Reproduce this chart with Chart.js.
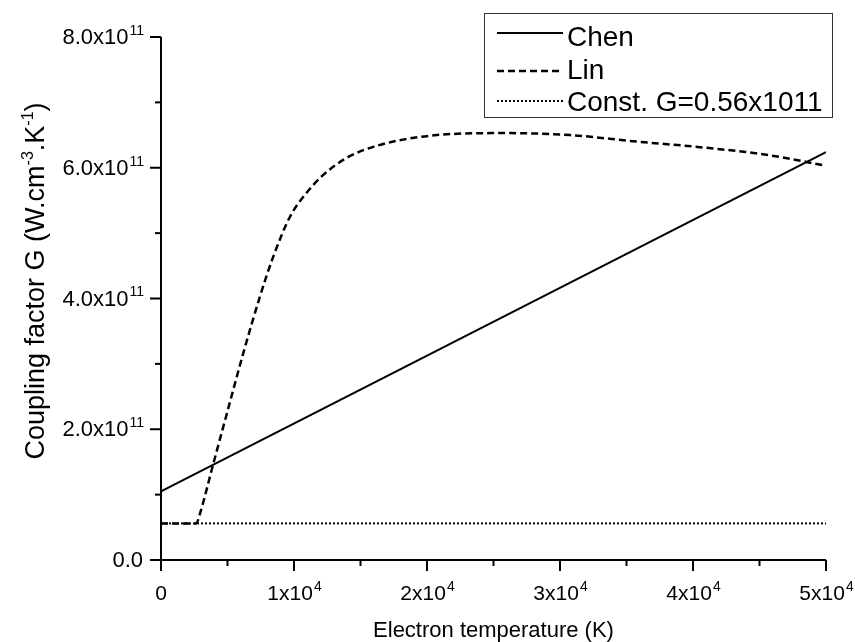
<!DOCTYPE html>
<html>
<head>
<meta charset="utf-8">
<script src="https://cdn.jsdelivr.net/npm/chart.js@4.4.1/dist/chart.umd.min.js"></script>
<style>
  html, body { margin: 0; padding: 0; background: #fff; }
  #wrap { width: 855px; height: 642px; }
</style>
</head>
<body>
<div id="wrap"><canvas id="graph" width="855" height="642"></canvas></div>
<script>
// electron temperature (K) and coupling factor G (units of 1e11 W.cm-3.K-1)
const chenT = [0, 50000];
const chenG = [1.05, 6.24];

const linT = [0, 2650, 2930, 3930, 5190, 6250, 7440, 8440, 9700, 10960, 12200, 13960, 15960, 20730, 25740, 30750, 35770, 40780, 45790, 50000];
const linG = [0.56, 0.56, 0.71, 1.47, 2.42, 3.21, 4.03, 4.64, 5.25, 5.62, 5.89, 6.15, 6.32, 6.50, 6.53, 6.50, 6.40, 6.31, 6.19, 6.03];

const constT = [0, 50000];
const constG = [0.56, 0.56];

const seriesNames = ['Chen', 'Lin', 'Const. G=0.56x1011'];

const xTickVals = [0, 10000, 20000, 30000, 40000, 50000];
const xTickText = ['0', '1x10', '2x10', '3x10', '4x10', '5x10'];
const xTickExp  = ['', '4', '4', '4', '4', '4'];

const yTickVals = [0, 2e11, 4e11, 6e11, 8e11];
const yTickText = ['0.0', '2.0x10', '4.0x10', '6.0x10', '8.0x10'];
const yTickExp  = ['', '11', '11', '11', '11'];

const FONT = 'Arial, "Liberation Sans", sans-serif';

function pts(xs, ys) {
    return xs.map((x, i) => ({ x: x, y: ys[i] * 1e11 }));
}

// draws text with a raised exponent; align = 'center' | 'right' | 'left'
function supText(ctx, base, exp, x, y, size, supSize, align) {
    ctx.font = size + 'px ' + FONT;
    const wb = ctx.measureText(base).width;
    ctx.font = supSize + 'px ' + FONT;
    const we = exp ? ctx.measureText(exp).width : 0;
    const w = wb + we;
    let x0 = x;
    if (align === 'center') x0 = x - w / 2;
    if (align === 'right') x0 = x - w;
    ctx.textAlign = 'left';
    ctx.textBaseline = 'alphabetic';
    ctx.font = size + 'px ' + FONT;
    ctx.fillText(base, x0, y);
    if (exp) {
        ctx.font = supSize + 'px ' + FONT;
        ctx.fillText(exp, x0 + wb + 1, y - size * 0.42);
    }
}

const axisDecor = {
    id: 'axisDecor',
    afterDraw(chart) {
        const ctx = chart.ctx;
        const xs = chart.scales.x;
        const ys = chart.scales.y;
        const a = chart.chartArea;
        ctx.save();
        ctx.strokeStyle = '#000';
        ctx.fillStyle = '#000';
        ctx.lineWidth = 2;

        // axis lines
        ctx.beginPath();
        ctx.moveTo(a.left, a.top);
        ctx.lineTo(a.left, a.bottom);
        ctx.lineTo(a.right, a.bottom);
        ctx.stroke();

        // tick marks (major + minor, outward)
        xs.ticks.forEach(t => {
            const px = xs.getPixelForValue(t.value);
            const len = (t.value % 10000 === 0) ? 11 : 6;
            ctx.beginPath();
            ctx.moveTo(px, a.bottom);
            ctx.lineTo(px, a.bottom + len);
            ctx.stroke();
        });
        ys.ticks.forEach(t => {
            const py = ys.getPixelForValue(t.value);
            const len = (Math.round(t.value / 1e11) % 2 === 0) ? 11 : 6;
            ctx.beginPath();
            ctx.moveTo(a.left, py);
            ctx.lineTo(a.left - len, py);
            ctx.stroke();
        });

        // tick labels
        xTickVals.forEach((v, i) => {
            supText(ctx, xTickText[i], xTickExp[i], xs.getPixelForValue(v), 600, 21, 14, 'center');
        });
        yTickVals.forEach((v, i) => {
            supText(ctx, yTickText[i], yTickExp[i], 143, ys.getPixelForValue(v) + 7, 22, 14, 'right');
        });

        // axis titles
        ctx.font = '22px ' + FONT;
        ctx.textAlign = 'center';
        ctx.textBaseline = 'alphabetic';
        ctx.fillText('Electron temperature (K)', (a.left + a.right) / 2, 637);

        ctx.save();
        ctx.translate(44, 281);
        ctx.rotate(-Math.PI / 2);
        const parts = [['Coupling factor G (W.cm', false], ['-3', true], ['.K', false], ['-1', true], [')', false]];
        let total = 0;
        parts.forEach(p => {
            ctx.font = (p[1] ? 16 : 27) + 'px ' + FONT;
            total += ctx.measureText(p[0]).width;
        });
        let cx = -total / 2;
        ctx.textAlign = 'left';
        parts.forEach(p => {
            ctx.font = (p[1] ? 16 : 27) + 'px ' + FONT;
            ctx.fillText(p[0], cx, p[1] ? -11 : 0);
            cx += ctx.measureText(p[0]).width;
        });
        ctx.restore();

        // legend box
        ctx.lineWidth = 1;
        ctx.strokeStyle = '#333';
        ctx.strokeRect(484.5, 13.5, 348, 104);
        const lineRows = [33, 71, 101];
        const textRows = [46, 79, 111];
        chart.data.datasets.forEach((ds, i) => {
            ctx.strokeStyle = '#000';
            ctx.lineWidth = ds.borderWidth;
            ctx.setLineDash(ds.borderDash || []);
            ctx.beginPath();
            ctx.moveTo(497, lineRows[i]);
            ctx.lineTo(563, lineRows[i]);
            ctx.stroke();
            ctx.setLineDash([]);
            ctx.font = '28px ' + FONT;
            ctx.textAlign = 'left';
            ctx.textBaseline = 'alphabetic';
            ctx.fillText(ds.label, 567, textRows[i]);
        });
        ctx.restore();
    }
};

const ctx = document.getElementById('graph').getContext('2d');
const graph = new Chart(ctx, {
    type: 'line',
    data: {
        datasets: [{
            label: seriesNames[0],
            data: pts(chenT, chenG),
            borderColor: '#000',
            borderWidth: 2,
            pointRadius: 0
        }, {
            label: seriesNames[1],
            data: pts(linT, linG),
            borderColor: '#000',
            borderWidth: 2.5,
            borderDash: [7, 4],
            pointRadius: 0,
            cubicInterpolationMode: 'monotone'
        }, {
            label: seriesNames[2],
            data: pts(constT, constG),
            borderColor: '#000',
            borderWidth: 2,
            borderDash: [2, 2],
            pointRadius: 0
        }]
    },
    options: {
        responsive: false,
        animation: false,
        layout: { padding: { top: 37, right: 29, left: 0, bottom: 0 } },
        scales: {
            x: {
                type: 'linear',
                min: 0,
                max: 50000,
                ticks: { display: false, stepSize: 5000 },
                grid: { display: false },
                border: { display: false },
                afterFit: s => { s.height = 82; }
            },
            y: {
                type: 'linear',
                min: 0,
                max: 8e11,
                ticks: { display: false, stepSize: 1e11 },
                grid: { display: false },
                border: { display: false },
                afterFit: s => { s.width = 161; }
            }
        },
        plugins: {
            legend: { display: false },
            tooltip: { enabled: false }
        }
    },
    plugins: [axisDecor]
});
</script>
</body>
</html>
